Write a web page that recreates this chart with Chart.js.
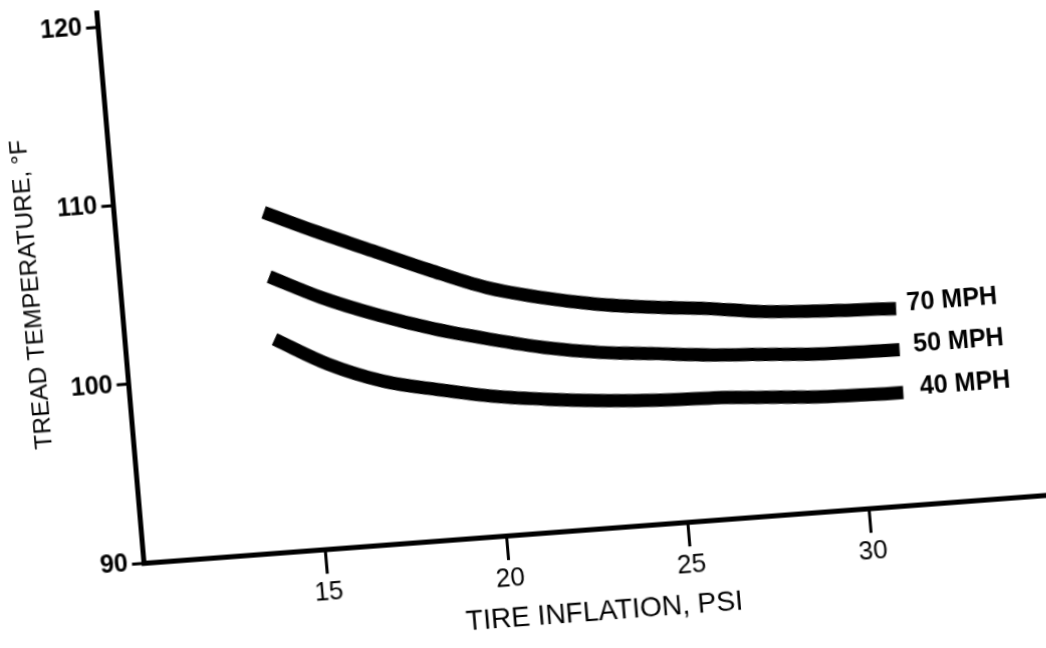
<!DOCTYPE html>
<html lang="en">
<head>
    <meta charset="UTF-8">
    <title>Tread Temperature vs Tire Inflation</title>
    <script src="https://cdn.jsdelivr.net/npm/chart.js"></script>
    <style>
        body { margin: 0; background: #fff; overflow: hidden; }
        #grafico { position: absolute; left: 0; top: 0; transform-origin: 0 0; }
    </style>
</head>
<body>
    <canvas id="grafico" width="1030" height="670"></canvas>

    <script>
        // values
        const psi    = [14.1, 15.5, 17, 18.5, 20, 21.5, 23, 24.5, 26, 27.5, 29, 31.2];
        const mph70  = [109.0, 107.7, 106.4, 105.1, 103.9, 103.1, 102.5, 102.1, 101.8, 101.4, 101.2, 101.0];
        const mph50  = [105.4, 104.0, 102.8, 101.8, 101.0, 100.3, 99.8, 99.5, 99.2, 99.0, 98.8, 98.7];
        const mph40  = [101.9, 100.3, 99.1, 98.4, 97.8, 97.4, 97.1, 96.9, 96.8, 96.6, 96.4, 96.3];
        const seriesLabels = ['70 MPH', '50 MPH', '40 MPH'];
        const xTicks = [15, 20, 25, 30];
        const yTicks = [90, 100, 110, 120];

        // where the (tilted) axes of the scan sit on the page
        const skew = { origin: [144, 563], xEnd: [1050.75, 494.75], yTop: [98.1, 26.9] };

        const font = "'Liberation Sans', Arial, sans-serif";

        function puntos(ys) {
            return psi.map((p, i) => ({ x: p, y: ys[i] }));
        }

        const etiquetasLineas = {
            id: 'etiquetasLineas',
            afterDatasetsDraw(chart) {
                const ctx = chart.ctx;
                ctx.save();
                ctx.fillStyle = '#000';
                ctx.font = 'bold 25px ' + font;
                ctx.textBaseline = 'middle';
                chart.data.datasets.forEach((ds, i) => {
                    const pts = chart.getDatasetMeta(i).data;
                    const last = pts[pts.length - 1];
                    ctx.fillText(seriesLabels[i], last.x + 11 + i * 3, last.y - 4);
                });
                ctx.restore();
            }
        };

        const colorLinea = '#000';
        const ctx = document.getElementById('grafico').getContext('2d');
        const chart = new Chart(ctx, {
            type: 'line',
            data: {
                datasets: [mph70, mph50, mph40].map((ys, i) => ({
                    label: seriesLabels[i],
                    data: puntos(ys),
                    borderColor: colorLinea,
                    borderWidth: 13,
                    borderCapStyle: 'butt',
                    pointRadius: 0,
                    fill: false,
                    cubicInterpolationMode: 'monotone'
                }))
            },
            options: {
                responsive: false,
                animation: false,
                devicePixelRatio: 1,
                layout: { padding: { left: 8, right: 10, top: 20, bottom: 4 } },
                plugins: { legend: { display: false }, tooltip: { enabled: false } },
                scales: {
                    x: {
                        type: 'linear',
                        min: 10,
                        max: 35,
                        afterBuildTicks: s => { s.ticks = xTicks.map(v => ({ value: v })); },
                        border: { display: true, color: '#000', width: 5 },
                        grid: { drawOnChartArea: false, drawTicks: true, tickLength: 24, tickWidth: 3, tickColor: '#000' },
                        ticks: { color: '#000', font: { family: font, size: 26 }, padding: 3, maxRotation: 0 },
                        title: { display: true, text: 'TIRE INFLATION, PSI', color: '#000', font: { family: font, size: 28 }, padding: { top: 4 } }
                    },
                    y: {
                        min: 90,
                        max: 120.8,
                        afterBuildTicks: s => { s.ticks = yTicks.map(v => ({ value: v })); },
                        border: { display: true, color: '#000', width: 5 },
                        grid: { drawOnChartArea: false, drawTicks: true, tickLength: 12, tickWidth: 3, tickColor: '#000' },
                        ticks: { color: '#000', font: { family: font, size: 25, weight: 'bold' }, padding: 4 },
                        title: { display: true, text: 'TREAD TEMPERATURE, °F', color: '#000', font: { family: font, size: 24 }, padding: { bottom: 12 } }
                    }
                }
            },
            plugins: [etiquetasLineas]
        });

        // tilt the whole drawing like the photographed page
        function inclinar() {
            const xs = chart.scales.x, ys = chart.scales.y;
            const x0 = xs.getPixelForValue(10), x1 = xs.getPixelForValue(35);
            const y0 = ys.getPixelForValue(90), y2 = ys.getPixelForValue(120);
            const [ox, oy] = skew.origin;
            const a = (skew.xEnd[0] - ox) / (x1 - x0);
            const b = (skew.xEnd[1] - oy) / (x1 - x0);
            const c = (skew.yTop[0] - ox) / (y2 - y0);
            const d = (skew.yTop[1] - oy) / (y2 - y0);
            const e = ox - a * x0 - c * y0;
            const f = oy - b * x0 - d * y0;
            chart.canvas.style.transform = `matrix(${a}, ${b}, ${c}, ${d}, ${e}, ${f})`;
        }
        inclinar();
    </script>
</body>
</html>
